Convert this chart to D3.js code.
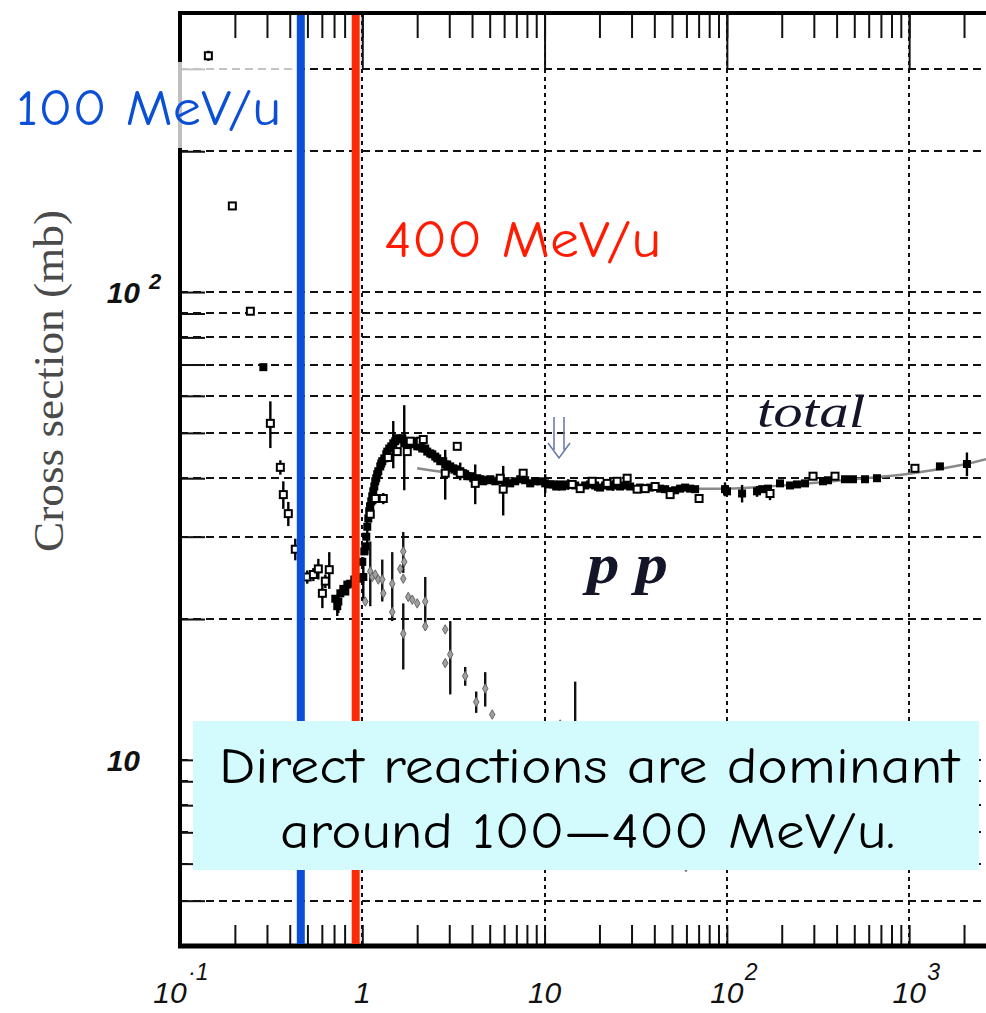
<!DOCTYPE html>
<html><head><meta charset="utf-8">
<script src="https://cdn.jsdelivr.net/npm/d3@7"></script>
<style>
html,body{margin:0;padding:0;background:#fff;}
svg{display:block;}
</style></head><body>
<svg id="chart" width="986" height="1013"></svg>
<script>
// pp total cross section: open-symbol data sets (momentum GeV/c, sigma mb, error mb)
const totalOpenMomentum = [0.1431,0.1937,0.2432,0.3131,0.3552,0.3688,0.3928,0.429,0.499,0.539,0.574,0.604,0.627,0.659,
  1.106,1.178,1.304,1.388,1.555,1.765,1.833,2.080,2.160,2.851,3.318,3.446,4.165,5.710,5.930,7.633,
  14.17,15.68,18.24,22.04,25.0,28.38,32.19,35.62,40.42,48.84,70.4,172.5,296.9,392,1076];
const totalOpenSigma = [320,152.8,91.0,52.4,42.2,36.9,33.6,28.2,24.6,24.9,25.6,22.7,24.1,25.5,
  33.5,36.2,36.2,44.3,45.6,45.6,48.0,48.0,48.4,41.0,46.8,41.0,39.0,40.0,37.9,41.0,
  38.8,38.0,39.4,39.0,39.4,40.0,37.9,38.0,38.4,36.9,36.2,37.1,40.4,40.4,42.0];
const totalOpenError = [8,0,0,6,1.5,2.5,2.0,1.5,0.8,0.8,1.3,1.6,0.8,2.3,
  1.0,1.0,1.0,0,0,0,0,0,0,5.0,0,0,3.8,0,4.6,0,
  0,0,0,0,0,0,0,0,0,0,0,1.2,0,0,0];

// pp total cross section: filled-symbol data sets
const totalFilledMomentum = [0.2866,0.711,0.729,0.739,0.758,0.787,0.807,0.828,0.859,0.904,0.951,
  1.0,1.013,1.026,1.039,1.052,1.065,1.079,1.092,1.106,1.120,1.134,1.149,1.164,1.178,1.193,1.208,1.224,
  1.255,1.271,1.287,1.320,1.354,1.371,1.406,1.442,1.479,1.516,1.555,1.615,1.657,1.699,1.721,1.765,
  1.833,1.880,1.952,2.002,2.080,2.133,2.215,2.272,2.360,2.420,2.513,2.577,2.677,2.780,2.851,2.925,
  3.038,3.155,3.235,3.318,3.446,3.579,3.670,3.764,3.909,4.061,4.271,4.436,4.607,4.846,5.033,5.361,
  5.710,6.081,6.478,6.901,7.349,7.828,8.337,8.882,9.461,10.08,10.73,11.15,11.58,12.18,12.49,12.97,
  13.47,14.72,16.70,17.78,18.94,20.17,21.48,22.89,23.78,25.97,27.67,29.47,33.44,37.94,43.05,45.86,
  48.84,52.02,55.41,59.02,62.87,66.97,97.7,100.2,121.2,146.4,156.0,168.2,195.7,222.1,242.6,268.4,
  336.8,358.7,444.6,491.8,572.4,666.1,1475,2075];
const totalFilledSigma = [69.1,22.1,21.3,21.8,22.7,23.2,22.9,23.7,23.8,24.3,24.4,
  26.5,24.6,27.9,28.6,30.0,31.5,32.8,34.0,34.8,35.7,36.6,37.5,38.4,39.4,40.0,40.8,41.4,
  42.4,43.0,43.5,44.1,45.0,45.6,46.3,46.8,47.5,48.0,48.7,48.4,48.7,47.5,48.0,47.3,
  47.3,48.0,47.3,46.8,46.8,46.3,46.3,45.6,45.2,45.0,44.5,44.1,43.5,43.5,42.8,42.8,
  42.4,42.0,41.8,41.4,41.4,41.0,40.8,40.4,40.4,40.0,40.0,39.8,39.4,39.6,39.8,39.4,
  39.6,39.4,39.0,39.4,39.8,39.6,39.0,39.4,39.4,39.0,38.8,38.8,38.4,38.8,38.4,38.6,
  38.8,38.6,38.6,38.8,38.6,38.2,38.6,38.4,38.6,38.4,38.6,38.4,38.2,38.2,38.0,37.9,
  37.5,37.7,38.0,38.2,38.0,37.9,37.9,37.5,37.1,37.5,37.9,38.0,39.0,38.6,38.8,39.0,
  39.4,39.6,39.8,39.8,39.8,40.0,42.4,42.9];
const totalFilledError = [0,0,1.0,1.2,0,0,0,0,0,0,0,
  0,2.5,0,0,0,4.0,0,0,0,2.5,0,0,0,0,0,0,0,
  0,0,0,0,0,0,0,0,5.5,0,0,0,0,9.8,0,0,
  0,0,0,0,0,0,0,0,0,0,0,0,0,0,0,0,
  0,0,0,0,1.8,0,0,0,0,0,0,0,0,0,0,0,
  0,0,0,0,0,0,0,0,0,1.8,0,0,0,0,0,0,
  1.0,0,0,0,1.0,0,0,0,1.0,0,0,0,0,0,0,0,
  0,0,0,0,0,0,1.3,0,1.6,1.0,0,0,0,0,0,0,
  0,0,0,0,0,0,0,2.5];

// pp elastic cross section
const elasticMomentum = [1.039,1.106,1.134,1.178,1.224,1.287,1.304,1.460,1.460,1.615,1.678,1.699,1.678,1.678,
  1.787,1.880,2.002,2.215,2.215,2.851,2.851,3.038,3.670,4.217,4.725,5.162,12.18,14.72,59.7];
const elasticSigma = [21.8,25.3,24.6,24.9,24.3,24.3,22.7,23.8,20.7,25.6,27.9,26.5,24.4,18.6,
  22.3,22.0,21.6,21.8,19.3,19.0,16.1,16.8,15.1,13.3,14.2,12.5,11.9,11.7,5.9];
const elasticError = [0,4.0,0,0,0,2.5,0,4.0,0,0,2.8,0,0,3.0,
  0,0,0,2.8,0,0,0,3.0,0.7,0.7,1.2,0,0,3.0,0];

// smooth fit through the total cross section
const fitMomentum = [2.0,2.7,4,6,10,20,50,100,200,500,1000,2000,2700];
const fitSigma = [42.0,41.3,40.5,40.0,39.3,38.6,38.1,38.0,38.6,39.8,40.9,42.8,44.0];

// beam energies per nucleon marked on the momentum axis (GeV/c)
const beamMomentum = [0.46, 0.92];
const beamLabels = ["100 MeV/u", "400 MeV/u"];
const beamColors = ["#0b4fd6", "#fb2a08"];

// axis labels
const xTickValues = [0.1, 1, 10, 100, 1000];
const xTickBase = ["10", "1", "10", "10", "10"];
const xTickExp = ["-1", "", "", "2", "3"];
const yTickValues = [10, 100];
const yTickBase = ["10", "10"];
const yTickExp = ["", "2"];

const svg = d3.select("#chart");
const plot = {left: 180, top: 13, right: 986, bottom: 946};

const x = d3.scaleLog().domain([0.1, 2640]).range([plot.left, plot.right]);
const y = d3.scaleLog().domain([4, 395]).range([plot.bottom, plot.top]);

svg.append("defs").append("clipPath").attr("id", "plotClip")
  .append("rect").attr("x", plot.left).attr("y", plot.top)
  .attr("width", plot.right - plot.left).attr("height", plot.bottom - plot.top);

const xMinor = x.ticks().filter(v => v > 0.1);
const xMajor = xMinor.filter(v => Math.abs(Math.log10(v) - Math.round(Math.log10(v))) < 1e-9);
const yMinor = y.ticks().filter(v => v > 4.01);

// grid
const grid = svg.append("g").attr("clip-path", "url(#plotClip)");
grid.selectAll("line.h").data(yMinor).join("line")
  .attr("x1", plot.left).attr("x2", plot.right)
  .attr("y1", d => Math.round(y(d))).attr("y2", d => Math.round(y(d)))
  .attr("stroke", "#111").attr("stroke-width", 2).attr("stroke-dasharray", "8,5");
grid.selectAll("line.v").data(xMajor).join("line")
  .attr("x1", d => Math.round(x(d))).attr("x2", d => Math.round(x(d)))
  .attr("y1", plot.top).attr("y2", plot.bottom)
  .attr("stroke", "#111").attr("stroke-width", 2).attr("stroke-dasharray", "4,4");

// ticks (pointing into the frame)
const ticks = svg.append("g").attr("clip-path", "url(#plotClip)");
ticks.append("g").attr("transform", `translate(0,${plot.top})`)
  .call(d3.axisTop(x).tickValues(xMinor).tickSize(-25).tickFormat(""))
  .call(g => g.select(".domain").remove());
ticks.append("g").attr("transform", `translate(0,${plot.top})`)
  .call(d3.axisTop(x).tickValues(xMajor).tickSize(-55).tickFormat(""))
  .call(g => g.select(".domain").remove());
ticks.append("g").attr("transform", `translate(0,${plot.bottom})`)
  .call(d3.axisBottom(x).tickValues(xMinor).tickSize(-21).tickFormat(""))
  .call(g => g.select(".domain").remove());
ticks.append("g").attr("transform", `translate(${plot.left},0)`)
  .call(d3.axisLeft(y).tickValues(yMinor).tickSize(-25).tickFormat(""))
  .call(g => g.select(".domain").remove());
ticks.selectAll(".tick line").attr("stroke", "#111").attr("stroke-width", 2);

// fit curve
const data = svg.append("g").attr("clip-path", "url(#plotClip)");
const fitPts = fitMomentum.map((p, i) => [p, fitSigma[i]]);
data.append("path").datum(fitPts)
  .attr("d", d3.line().x(d => x(d[0])).y(d => y(d[1])).curve(d3.curveCatmullRom))
  .attr("fill", "none").attr("stroke", "#8a8a8a").attr("stroke-width", 2.4);

function errorBars(P, S, E, color) {
  const pts = P.map((p, i) => ({p, s: S[i], e: E[i]})).filter(d => d.e > 0);
  data.append("g").selectAll("line").data(pts).join("line")
    .attr("x1", d => x(d.p)).attr("x2", d => x(d.p))
    .attr("y1", d => y(d.s + d.e)).attr("y2", d => y(Math.max(d.s - d.e, 4.1)))
    .attr("stroke", color).attr("stroke-width", 2.4);
}

errorBars(totalFilledMomentum, totalFilledSigma, totalFilledError, "#000");
errorBars(totalOpenMomentum, totalOpenSigma, totalOpenError, "#000");
errorBars(elasticMomentum, elasticSigma, elasticError, "#111");

// elastic points
const elPts = elasticMomentum.map((p, i) => ({p, s: elasticSigma[i]}));
data.append("g").selectAll("path").data(elPts).join("path")
  .attr("d", d3.symbol(d3.symbolDiamond, 26))
  .attr("transform", d => `translate(${x(d.p)},${y(d.s)})`)
  .attr("fill", "#a0a0a0").attr("stroke", "#666").attr("stroke-width", 1);

// filled total points
const fPts = totalFilledMomentum.map((p, i) => ({p, s: totalFilledSigma[i]}));
data.append("g").selectAll("rect").data(fPts).join("rect")
  .attr("x", d => x(d.p) - 4).attr("y", d => y(d.s) - 4)
  .attr("width", 8).attr("height", 8).attr("fill", "#000");

// open total points
const oPts = totalOpenMomentum.map((p, i) => ({p, s: totalOpenSigma[i]}));
data.append("g").selectAll("rect").data(oPts).join("rect")
  .attr("x", d => x(d.p) - 3.5).attr("y", d => y(d.s) - 3.5)
  .attr("width", 7).attr("height", 7)
  .attr("fill", "#fff").attr("stroke", "#000").attr("stroke-width", 2);

// frame
const frame = svg.append("g").attr("stroke", "#000").attr("fill", "none");
frame.append("line").attr("x1", plot.left).attr("x2", plot.right).attr("y1", plot.top).attr("y2", plot.top).attr("stroke-width", 4);
frame.append("line").attr("x1", plot.left).attr("x2", plot.left).attr("y1", plot.top - 2).attr("y2", plot.bottom + 2).attr("stroke-width", 4);
frame.append("line").attr("x1", plot.left - 2).attr("x2", plot.right).attr("y1", plot.bottom).attr("y2", plot.bottom).attr("stroke-width", 5);

// translucent backing behind the 100 MeV/u label
svg.append("rect").attr("x", 0).attr("y", 62).attr("width", 297).attr("height", 86)
  .attr("fill", "#fff").attr("opacity", 0.75);

// beam energy markers
svg.append("g").selectAll("line").data(beamMomentum).join("line")
  .attr("x1", d => x(d)).attr("x2", d => x(d))
  .attr("y1", plot.top + 2).attr("y2", plot.bottom - 2)
  .attr("stroke", (d, i) => beamColors[i]).attr("stroke-width", 8);

const handFont = "'Comic Sans MS','Comic Neue','Open Sans',sans-serif";
svg.append("text").attr("x", 16).attr("y", 125)
  .attr("font-family", handFont).attr("font-size", 50)
  .attr("fill", beamColors[0]).attr("textLength", 265).attr("lengthAdjust", "spacingAndGlyphs")
  .text(beamLabels[0]);
svg.append("text").attr("x", 384).attr("y", 257)
  .attr("font-family", handFont).attr("font-size", 52)
  .attr("fill", "#ff1a00").attr("textLength", 277).attr("lengthAdjust", "spacingAndGlyphs")
  .text(beamLabels[1]);

// in-plot labels
svg.append("text").attr("x", 757).attr("y", 427)
  .attr("font-family", "'Liberation Serif','DejaVu Serif',serif").attr("font-style", "italic")
  .attr("font-size", 46).attr("fill", "#15152a")
  .attr("textLength", 108).attr("lengthAdjust", "spacingAndGlyphs").text("total");
svg.append("text").attr("x", 587).attr("y", 583)
  .attr("font-family", "'Liberation Serif','DejaVu Serif',serif").attr("font-style", "italic").attr("font-weight", "bold")
  .attr("font-size", 56).attr("fill", "#15152a")
  .attr("textLength", 81).attr("lengthAdjust", "spacingAndGlyphs").text("p p");

// threshold arrow
const arrowX = x(12.0);
svg.append("path")
  .attr("d", `M${arrowX - 5},417V450M${arrowX + 5},417V450M${arrowX - 11},443L${arrowX},458L${arrowX + 11},443`)
  .attr("fill", "none").attr("stroke", "#6c7cae").attr("stroke-width", 1.6);

// x tick labels
const tickFont = "'Liberation Sans',Arial,sans-serif";
xTickValues.forEach((v, i) => {
  const cx = x(v) + (v < 1 ? -10 : 0);
  svg.append("text").attr("x", cx).attr("y", 1003).attr("text-anchor", "middle")
    .attr("font-family", tickFont).attr("font-style", "italic").attr("font-size", 30)
    .attr("fill", "#111").text(xTickBase[i]);
  if (xTickExp[i]) {
    svg.append("text").attr("x", cx + 18).attr("y", 980)
      .attr("font-family", tickFont).attr("font-style", "italic").attr("font-size", 23)
      .attr("fill", "#111").text(xTickExp[i] === "-1" ? "·1" : xTickExp[i]);
  }
});

// y tick labels
yTickValues.forEach((v, i) => {
  svg.append("text").attr("x", 140).attr("y", y(v) + 11).attr("text-anchor", "end")
    .attr("font-family", tickFont).attr("font-style", "italic").attr("font-weight", "bold")
    .attr("font-size", 30).attr("fill", "#111").text(yTickBase[i]);
  if (yTickExp[i]) {
    svg.append("text").attr("x", 149).attr("y", y(v) - 3)
      .attr("font-family", tickFont).attr("font-style", "italic").attr("font-weight", "bold")
      .attr("font-size", 22).attr("fill", "#111").text(yTickExp[i]);
  }
});

// y axis title
svg.append("text").attr("transform", "translate(63,381) rotate(-90)")
  .attr("text-anchor", "middle")
  .attr("font-family", "'Liberation Serif','Times New Roman',serif").attr("font-size", 42)
  .attr("fill", "#4a4a4a").attr("textLength", 342).attr("lengthAdjust", "spacingAndGlyphs")
  .text("Cross section (mb)");

// note box
svg.append("rect").attr("x", 193).attr("y", 721).attr("width", 786).attr("height", 149)
  .attr("fill", "#d3fbfd");
svg.append("text").attr("x", 219).attr("y", 783)
  .attr("font-family", handFont).attr("font-size", 50).attr("fill", "#000")
  .attr("textLength", 740).attr("lengthAdjust", "spacingAndGlyphs")
  .text("Direct reactions are dominant");
svg.append("text").attr("x", 280).attr("y", 848)
  .attr("font-family", handFont).attr("font-size", 50).attr("fill", "#000")
  .attr("textLength", 615).attr("lengthAdjust", "spacingAndGlyphs")
  .text("around 100\u2014400 MeV/u.");
</script>
</body></html>
